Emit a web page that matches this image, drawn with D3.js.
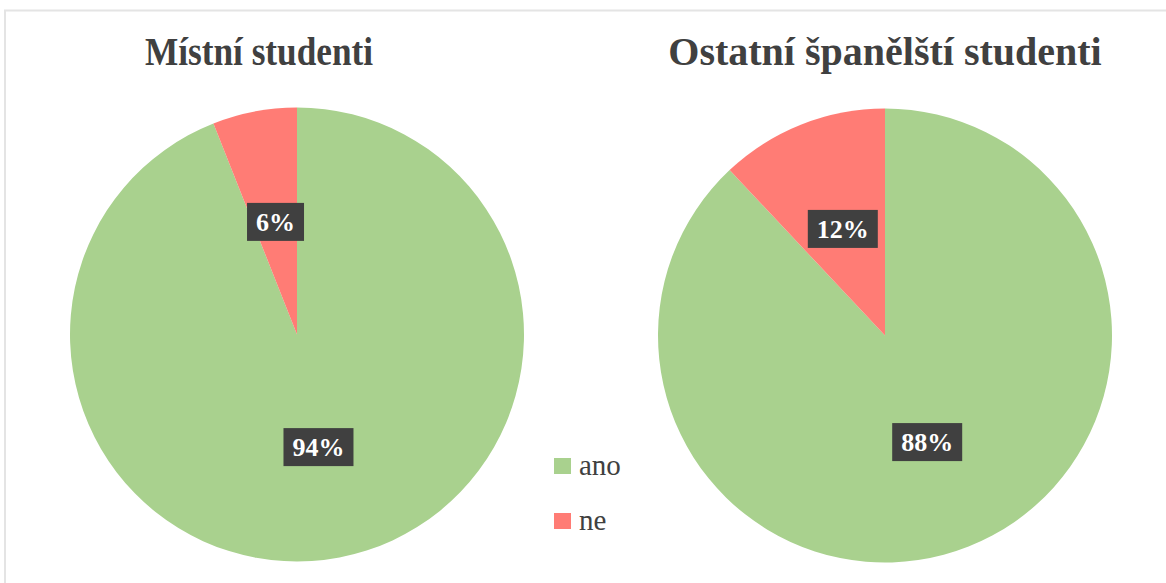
<!DOCTYPE html>
<html>
<head>
<meta charset="utf-8">
<script src="https://cdn.jsdelivr.net/npm/d3@7"></script>
<style>
    body { margin: 0; background: #fff; }
    svg { display: block; }
</style>
</head>
<body>
<div id="chart"></div>
<script>
// data
let categories = ["ano", "ne"];
let localValues = [94, 6];
let otherValues = [88, 12];
let titles = ["Místní studenti", "Ostatní španělští studenti"];
let colors = ["#a9d18e", "#ff7c75"];

let width = 1166, height = 583;

let svg = d3.select("#chart").append("svg")
        .attr("width", width)
        .attr("height", height);

// light frame round the chart area
svg.append("path")
    .attr("d", "M5,600 L5,10.5 L1200,10.5")
    .attr("fill", "none")
    .attr("stroke", "#e4e4e4")
    .attr("stroke-width", 2);

let fill = d3.scaleOrdinal().domain(categories).range(colors);

let pie = d3.pie().sort(null).value(d => d.value);

let radius = 227;
let arc = d3.arc().innerRadius(0).outerRadius(radius);
let labelArc = d3.arc().innerRadius(radius * 0.505).outerRadius(radius * 0.505);

// Function to draw one pie with title and labels
function drawPie(values, cx, cy, title, titleX, titleLength) {
    let data = categories.map((c, i) => ({ category: c, value: values[i] }));
    let g = svg.append("g").attr("transform", "translate(" + cx + "," + cy + ")");

    g.selectAll("path")
        .data(pie(data))
        .enter().append("path")
        .attr("d", arc)
        .style("fill", d => fill(d.data.category));

    let labels = g.selectAll(".label")
        .data(pie(data))
        .enter().append("g")
        .attr("class", "label")
        .attr("transform", d => "translate(" + labelArc.centroid(d) + ")");

    let box = labels.append("rect")
        .attr("y", -19)
        .attr("height", 38)
        .style("fill", "#404040");

    let txt = labels.append("text")
        .attr("text-anchor", "middle")
        .attr("y", 9)
        .style("font-family", "'Liberation Serif', 'Times New Roman', serif")
        .style("font-weight", "bold")
        .style("font-size", "26px")
        .style("fill", "#ffffff")
        .text(d => d.data.value + "%");

    // size the boxes from the text widths
    txt.each(function(d) {
        d.tw = this.getComputedTextLength();
    });
    box.attr("x", d => -(d.tw / 2 + 9))
        .attr("width", d => d.tw + 18);

    let t = svg.append("text")
        .attr("x", titleX)
        .attr("y", 65)
        .attr("text-anchor", "middle")
        .style("font-family", "'Liberation Serif', 'Times New Roman', serif")
        .style("font-weight", "bold")
        .style("font-size", "40px")
        .style("fill", "#404040")
        .text(title);
    if (titleLength) {
        t.attr("textLength", titleLength).attr("lengthAdjust", "spacingAndGlyphs");
    }
}

drawPie(localValues, 297, 334.5, titles[0], 259, 228);
drawPie(otherValues, 885, 335.5, titles[1], 885, null);

// Legend
let legend = svg.selectAll(".legend")
    .data(categories)
    .enter().append("g")
    .attr("class", "legend")
    .attr("transform", (d, i) => "translate(554," + (458 + i * 55) + ")");

legend.append("rect")
    .attr("width", 17)
    .attr("height", 16)
    .style("fill", d => fill(d));

legend.append("text")
    .attr("x", 25)
    .attr("y", 17)
    .style("font-family", "'Liberation Serif', 'Times New Roman', serif")
    .style("font-size", "29px")
    .style("fill", "#404040")
    .text(d => d);
</script>
</body>
</html>
